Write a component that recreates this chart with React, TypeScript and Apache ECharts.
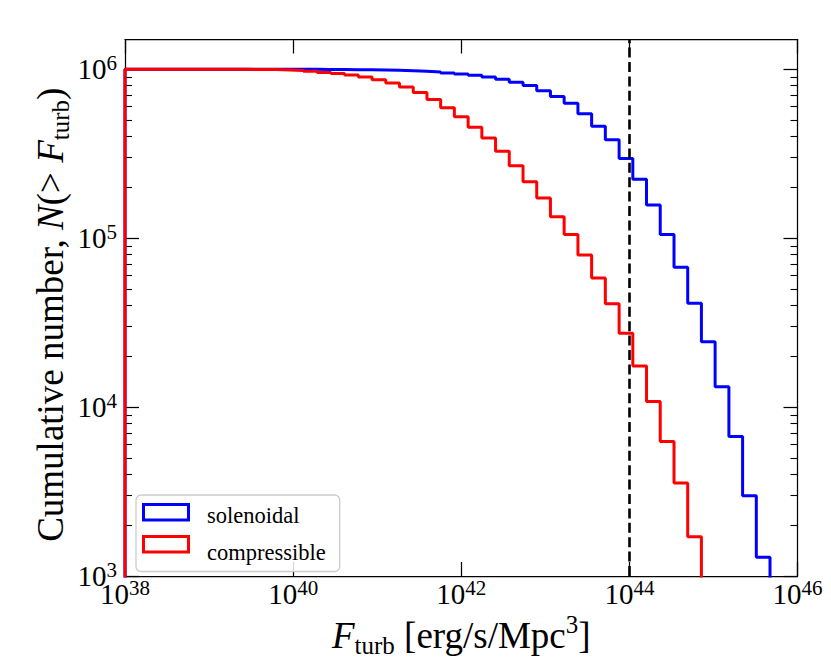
import React, { useEffect, useRef } from "react";
import * as echarts from "echarts";

// Bin edges of the cumulative histograms, as log10(F_turb [erg/s/Mpc^3])
const BIN_EDGES_LOG = [
  38.0, 38.163, 38.327, 38.49, 38.653, 38.816, 38.98, 39.143, 39.306, 39.469,
  39.633, 39.796, 39.959, 40.122, 40.286, 40.449, 40.612, 40.776, 40.939, 41.102,
  41.265, 41.429, 41.592, 41.755, 41.918, 42.082, 42.245, 42.408, 42.571, 42.735,
  42.898, 43.061, 43.224, 43.388, 43.551, 43.714, 43.878, 44.041, 44.204, 44.367,
  44.531, 44.694, 44.857, 45.02, 45.184, 45.347, 45.51, 45.673, 45.837, 46.0,
];

// Cumulative number N(> F_turb) in each bin
const SOLENOIDAL = [
  1000000, 1000000, 1000000, 999990, 999980, 999960, 999930, 999880, 999800, 999680,
  999500, 999200, 998800, 998200, 997300, 996000, 994200, 991800, 988600, 984800,
  980500, 973000, 964000, 951000, 938000, 921000, 900000, 873000, 838000, 800000,
  747000, 690000, 628000, 545000, 459000, 383000, 296000, 223000, 157000, 105000,
  67300, 41200, 24400, 13200, 6700, 2990, 1290, 450, 120,
];
const COMPRESSIBLE = [
  1000000, 999990, 999970, 999930, 999860, 999750, 999550, 999200, 998500, 997300,
  995000, 990500, 983000, 973000, 957000, 945000, 925000, 900000, 865000, 828000,
  786000, 729000, 661000, 592000, 524000, 454000, 391000, 327000, 268000, 216000,
  173000, 134000, 105000, 79600, 58000, 40900, 27400, 17500, 10800, 6250,
  3550, 1710, 700, 260, 90, 30, 8, 2, 1,
];

const SERIES_NAMES = ["solenoidal", "compressible"];
const SERIES_COLORS = ["#0000ff", "#ff0000"];

// Axis tick labels (exponents of ten)
const X_TICK_EXPS = [38, 40, 42, 44, 46];
const Y_TICK_EXPS = [3, 4, 5, 6];
const X_MIN = 38;
const X_MAX = 46;
const Y_MIN = 3;
const Y_MAX = 6.176;
const THRESHOLD_EXP = 44;
const FLOOR_COUNT = 0.01;

const FONT = "'Liberation Serif', 'Times New Roman', serif";

function stepData(values: number[]) {
  const pts: number[][] = [[BIN_EDGES_LOG[0], Math.log10(FLOOR_COUNT)]];
  values.forEach((v, i) => pts.push([BIN_EDGES_LOG[i], Math.log10(v)]));
  const n = values.length;
  pts.push([BIN_EDGES_LOG[n], Math.log10(values[n - 1])]);
  pts.push([BIN_EDGES_LOG[n], Math.log10(FLOOR_COUNT)]);
  return pts;
}

const minorY: number[] = [];
Y_TICK_EXPS.forEach((e) => {
  for (let k = 2; k <= 9; k++) {
    const v = e + Math.log10(k);
    if (v < Y_MAX) minorY.push(v);
  }
});

const tickRich = {
  b: { fontSize: 29, lineHeight: 33, fontFamily: FONT, color: "#000" },
  s: { fontSize: 21, lineHeight: 21, verticalAlign: "top", fontFamily: FONT, color: "#000" },
};
const nameRich = {
  r: { fontSize: 37, lineHeight: 46, fontFamily: FONT, color: "#000" },
  i: { fontSize: 37, lineHeight: 46, fontFamily: FONT, fontStyle: "italic", color: "#000" },
  sub: { fontSize: 25, lineHeight: 25, verticalAlign: "bottom", fontFamily: FONT, color: "#000" },
  sup: { fontSize: 25, lineHeight: 30, verticalAlign: "top", fontFamily: FONT, color: "#000" },
};

const tickFmt = (v: number) => `{b|10}{s|${Math.round(v)}}`;
const axisLine = { show: true, lineStyle: { color: "#000", width: 1.25 } };

export default function App() {
  const ref = useRef<HTMLDivElement>(null);
  useEffect(() => {
    if (!ref.current) return;
    const chart = echarts.init(ref.current, null, { renderer: "svg" });
    const baseX = {
      type: "value",
      min: X_MIN,
      max: X_MAX,
      interval: 2,
      splitLine: { show: false },
      axisLine,
      axisTick: { show: true, inside: true, length: 14, lineStyle: { color: "#000", width: 1.25 } },
    };
    const baseY = {
      type: "value",
      min: Y_MIN,
      max: Y_MAX,
      splitLine: { show: false },
      nameMoveOverlap: false,
    };
    chart.setOption({
      animation: false,
      backgroundColor: "#ffffff",
      grid: {
        left: 125,
        top: 39.5,
        right: 33.5,
        bottom: 94,
        containLabel: false,
        outerBoundsMode: "none",
      },
      legend: {
        show: true,
        orient: "vertical",
        left: 136,
        top: 495,
        padding: [9, 14, 8, 6],
        itemWidth: 60,
        itemHeight: 18,
        itemGap: 13.5,
        backgroundColor: "rgba(255,255,255,0.85)",
        borderColor: "#cccccc",
        borderWidth: 1.3,
        borderRadius: 5,
        selectedMode: false,
        icon: "rect",
        itemStyle: { opacity: 0 },
        lineStyle: { opacity: 0, width: 0 },
        textStyle: { fontFamily: FONT, fontSize: 22.5, color: "#000" },
        data: SERIES_NAMES,
        z: 6,
      },
      xAxis: [
        {
          ...baseX,
          position: "bottom",
          name: "{i|F}{sub|turb}{r| [erg/s/Mpc}{sup|3}{r|]}",
          nameLocation: "middle",
          nameGap: 36,
          nameMoveOverlap: false,
          nameTextStyle: { rich: nameRich },
          axisLabel: {
            show: true,
            margin: 1,
            formatter: tickFmt,
            rich: tickRich,
            customValues: X_TICK_EXPS,
          },
        },
        {
          ...baseX,
          position: "top",
          axisLabel: { show: false },
        },
      ],
      yAxis: [
        {
          ...baseY,
          position: "left",
          axisLine,
          name: "{r|Cumulative number, }{i|N}{r|(> }{i|F}{sub|turb}{r|)}",
          nameLocation: "middle",
          nameRotate: 90,
          nameGap: 52,
          nameTextStyle: { rich: nameRich, padding: [0, 14, 0, 0] },
          axisTick: {
            show: true,
            inside: true,
            length: 14,
            customValues: Y_TICK_EXPS,
            lineStyle: { color: "#000", width: 1.25 },
          },
          axisLabel: {
            show: true,
            margin: 8,
            formatter: tickFmt,
            rich: tickRich,
            customValues: Y_TICK_EXPS,
          },
        },
        {
          ...baseY,
          position: "left",
          axisLine: { show: false },
          axisLabel: { show: false },
          axisTick: {
            show: true,
            inside: true,
            length: 7,
            customValues: minorY,
            lineStyle: { color: "#000", width: 1.1 },
          },
        },
        {
          ...baseY,
          position: "right",
          axisLine,
          axisLabel: { show: false },
          axisTick: {
            show: true,
            inside: true,
            length: 14,
            customValues: Y_TICK_EXPS,
            lineStyle: { color: "#000", width: 1.25 },
          },
        },
        {
          ...baseY,
          position: "right",
          axisLine: { show: false },
          axisLabel: { show: false },
          axisTick: {
            show: true,
            inside: true,
            length: 7,
            customValues: minorY,
            lineStyle: { color: "#000", width: 1.1 },
          },
        },
      ],
      series: [
        {
          name: SERIES_NAMES[0],
          type: "line",
          step: "end",
          data: stepData(SOLENOIDAL),
          xAxisIndex: 0,
          yAxisIndex: 0,
          symbol: "none",
          showSymbol: false,
          clip: true,
          lineStyle: { color: SERIES_COLORS[0], width: 3 },
          itemStyle: { color: SERIES_COLORS[0] },
          z: 2,
        },
        {
          name: SERIES_NAMES[1],
          type: "line",
          step: "end",
          data: stepData(COMPRESSIBLE),
          xAxisIndex: 0,
          yAxisIndex: 0,
          symbol: "none",
          showSymbol: false,
          clip: true,
          lineStyle: { color: SERIES_COLORS[1], width: 3 },
          itemStyle: { color: SERIES_COLORS[1] },
          z: 3,
          markLine: {
            silent: true,
            symbol: "none",
            label: { show: false },
            emphasis: { disabled: true },
            lineStyle: { color: "#000", width: 2.6, type: [10, 4.4] },
            data: [{ xAxis: THRESHOLD_EXP }],
            z: 5,
          },
        },
      ],
      graphic: [
        {
          type: "rect",
          z: 10,
          shape: { x: 143.5, y: 504.5, width: 45, height: 15.5 },
          style: { fill: "none", stroke: SERIES_COLORS[0], lineWidth: 3 },
        },
        {
          type: "rect",
          z: 10,
          shape: { x: 143.5, y: 536.5, width: 45, height: 15.5 },
          style: { fill: "none", stroke: SERIES_COLORS[1], lineWidth: 3 },
        },
      ],
    });
    return () => chart.dispose();
  }, []);
  return (
    <div
      ref={ref}
      style={{ position: "absolute", left: 0, top: 0, width: 831, height: 670 }}
    />
  );
}
